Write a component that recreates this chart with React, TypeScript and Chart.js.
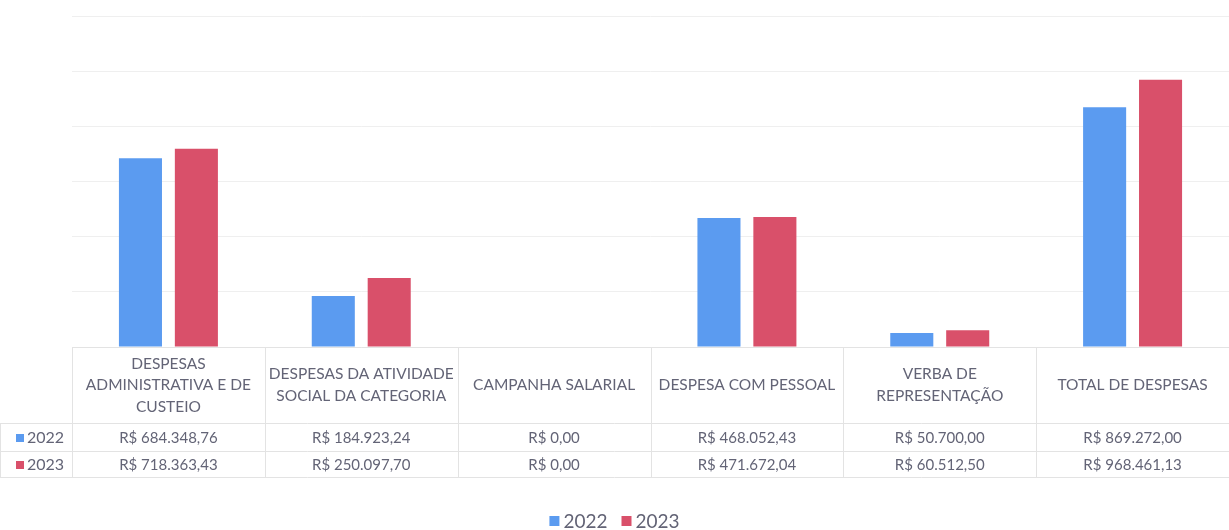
import React, { useEffect, useRef } from "react";
import { Chart, registerables } from "chart.js";

Chart.register(...registerables);

const categories: string[][] = [
  ["DESPESAS", "ADMINISTRATIVA E DE", "CUSTEIO"],
  ["DESPESAS DA ATIVIDADE", "SOCIAL DA CATEGORIA"],
  ["CAMPANHA SALARIAL"],
  ["DESPESA COM PESSOAL"],
  ["VERBA DE", "REPRESENTAÇÃO"],
  ["TOTAL DE DESPESAS"],
];
const seriesNames = ["2022", "2023"];
const values2022 = [684348.76, 184923.24, 0, 468052.43, 50700.0, 869272.0];
const values2023 = [718363.43, 250097.7, 0, 471672.04, 60512.5, 968461.13];
const colors = ["#5B9BF0", "#D9506A"];

const fmt = (v: number) =>
  "R$ " +
  v.toLocaleString("pt-BR", { minimumFractionDigits: 2, maximumFractionDigits: 2 });

const FONT = "Lato, 'Liberation Sans', sans-serif";
const TEXT = "#636476";
const LINE = "#e3e3e3";

const tablePlugin = {
  id: "dataTable",
  afterDraw(chart: any) {
    const { ctx, chartArea } = chart;
    const xs = chart.scales.x;
    const n = categories.length;
    const left = chartArea.left;
    const right = chartArea.right;
    const cw = (right - left) / n;
    const top = chartArea.bottom;
    const hdrBottom = 423;
    const row1Bottom = 451;
    const row2Bottom = 477;
    ctx.save();
    ctx.strokeStyle = LINE;
    ctx.lineWidth = 1;
    for (let i = 0; i <= n; i++) {
      const x = Math.round(left + i * cw) + 0.5;
      ctx.beginPath();
      ctx.moveTo(x, top);
      ctx.lineTo(x, row2Bottom);
      ctx.stroke();
    }
    [hdrBottom, row1Bottom, row2Bottom].forEach((y) => {
      ctx.beginPath();
      ctx.moveTo(0, y + 0.5);
      ctx.lineTo(right, y + 0.5);
      ctx.stroke();
    });
    ctx.beginPath();
    ctx.moveTo(0.5, hdrBottom);
    ctx.lineTo(0.5, row2Bottom);
    ctx.stroke();
    ctx.fillStyle = TEXT;
    ctx.font = `15.5px ${FONT}`;
    ctx.textAlign = "center";
    ctx.textBaseline = "middle";
    const lh = 21.5;
    categories.forEach((lines, i) => {
      const cx = xs.getPixelForValue(i);
      const cy = (top + hdrBottom) / 2;
      const start = cy - ((lines.length - 1) * lh) / 2;
      lines.forEach((t, j) => ctx.fillText(t, cx, start + j * lh));
    });
    const rows = [values2022, values2023];
    const rowCenters = [(hdrBottom + row1Bottom) / 2 + 1, (row1Bottom + row2Bottom) / 2 + 1];
    rows.forEach((vals, r) => {
      const cy = rowCenters[r];
      ctx.font = `15px ${FONT}`;
      vals.forEach((v, i) => {
        ctx.fillText(fmt(v), xs.getPixelForValue(i), cy);
      });
      ctx.fillStyle = colors[r];
      ctx.fillRect(16, cy - 4, 8, 8);
      ctx.fillStyle = TEXT;
      ctx.textAlign = "left";
      ctx.font = `16px ${FONT}`;
      ctx.fillText(seriesNames[r], 27, cy);
      ctx.textAlign = "center";
    });
    ctx.font = `19px ${FONT}`;
    ctx.textAlign = "left";
    const ly = 521;
    const items = seriesNames.map((s) => ({ s, w: ctx.measureText(s).width }));
    const box = 10;
    const gap = 4;
    const itemGap = 14;
    const total = items.reduce((a, it) => a + box + gap + it.w, 0) + itemGap;
    let x = chart.width / 2 - total / 2;
    items.forEach((it, i) => {
      ctx.fillStyle = colors[i];
      ctx.fillRect(x, ly - box / 2, box, box);
      ctx.fillStyle = TEXT;
      ctx.fillText(it.s, x + box + gap, ly + 1);
      x += box + gap + it.w + itemGap;
    });
    ctx.restore();
  },
};

export default function App() {
  const ref = useRef<HTMLCanvasElement>(null);
  useEffect(() => {
    document.body.style.margin = "0";
    const chart = new Chart(ref.current!, {
      type: "bar",
      data: {
        labels: categories.map((c) => c.join(" ")),
        datasets: [
          { label: seriesNames[0], data: values2022, backgroundColor: colors[0] },
          { label: seriesNames[1], data: values2023, backgroundColor: colors[1] },
        ],
      },
      options: {
        animation: false,
        responsive: false,
        maintainAspectRatio: false,
        layout: { padding: { left: 72, right: 0, top: 16, bottom: 183 } },
        datasets: { bar: { categoryPercentage: 0.58, barPercentage: 0.77 } },
        plugins: { legend: { display: false }, tooltip: { enabled: false } },
        scales: {
          x: {
            ticks: { display: false },
            grid: { display: false, drawTicks: false },
            border: { display: true, color: LINE },
            afterFit: (s: any) => {
              s.height = 0;
            },
          },
          y: {
            min: 0,
            max: 1200000,
            ticks: { display: false, stepSize: 200000 },
            grid: { color: "#efefef", drawTicks: false },
            border: { display: false },
            afterFit: (s: any) => {
              s.width = 0;
            },
          },
        },
      },
      plugins: [tablePlugin],
    } as any);
    return () => chart.destroy();
  }, []);
  return (
    <div style={{ width: 1229, height: 530 }}>
      <canvas ref={ref} width={1229} height={530} style={{ display: "block" }} />
    </div>
  );
}
